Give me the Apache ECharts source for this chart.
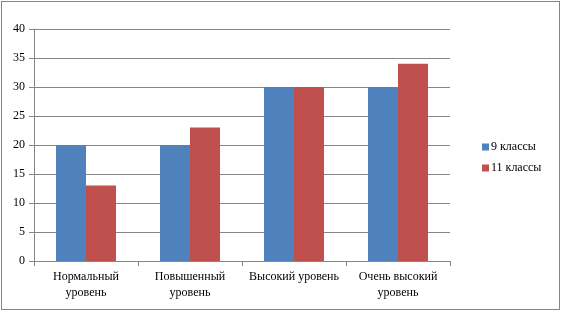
<!DOCTYPE html>
<html>
<head>
<meta charset="utf-8">
<script src="https://cdn.jsdelivr.net/npm/echarts@6/dist/echarts.min.js"></script>
<style>
  html, body { margin: 0; padding: 0; background: #fff; }
  #chart { position: absolute; left: 1px; top: 1px; width: 557px; height: 307px; border: 1px solid #868686; }
</style>
</head>
<body>
<div id="chart"></div>
<script>
const categories = ['Нормальный\nуровень', 'Повышенный\nуровень', 'Высокий уровень', 'Очень высокий\nуровень']
const grade9 = [20, 20, 30, 30]
const grade11 = [13, 23, 30, 34]
const seriesNames = ['9 классы', '11 классы']

const font = 'Times New Roman, Liberation Serif, DejaVu Serif, serif'
const chart = echarts.init(document.getElementById('chart'))
chart.setOption({
  animation: false,
  textStyle: { fontFamily: font },
  legend: {
    orient: 'vertical',
    left: 475,
    top: 134,
    itemWidth: 7,
    itemHeight: 7,
    itemGap: 9,
    icon: 'rect',
    textStyle: { fontFamily: font, fontSize: 12, color: '#000', padding: [0, 0, 0, -3] },
    data: seriesNames
  },
  grid: { left: 32, right: 109, top: 27, bottom: 48 },
  xAxis: {
    type: 'category',
    data: categories,
    axisLine: { lineStyle: { color: '#868686' } },
    axisTick: { show: true, length: 5, lineStyle: { color: '#868686' } },
    axisLabel: { color: '#000', fontFamily: font, fontSize: 12, margin: 8, lineHeight: 16, interval: 0 }
  },
  yAxis: {
    type: 'value',
    min: 0,
    max: 40,
    interval: 5,
    axisLine: { show: true, lineStyle: { color: '#868686' } },
    axisTick: { show: true, length: 5, lineStyle: { color: '#868686' } },
    axisLabel: { color: '#000', fontFamily: font, fontSize: 12, margin: 9 },
    splitLine: { lineStyle: { color: '#868686' } }
  },
  series: [
    { name: seriesNames[0], type: 'bar', data: grade9, barWidth: 30, barGap: '0%', itemStyle: { color: '#4F81BD' } },
    { name: seriesNames[1], type: 'bar', data: grade11, barWidth: 30, itemStyle: { color: '#C0504D' } }
  ]
})
</script>
</body>
</html>
